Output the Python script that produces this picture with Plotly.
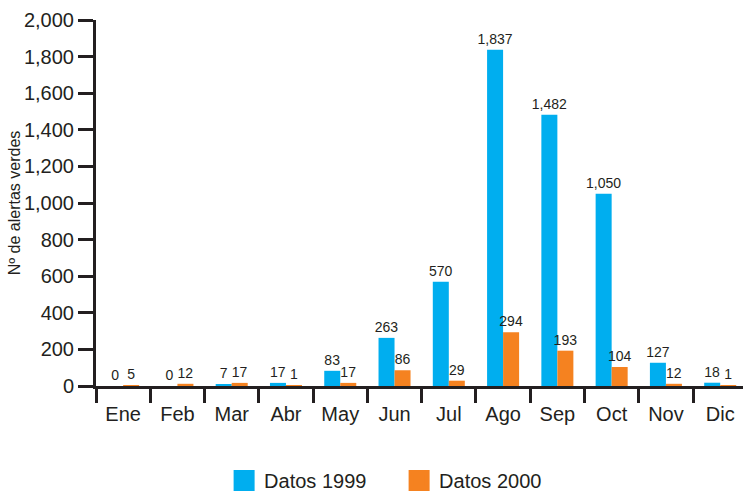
import plotly.graph_objects as go

months = ["Ene", "Feb", "Mar", "Abr", "May", "Jun", "Jul", "Ago", "Sep", "Oct", "Nov", "Dic"]
datos_1999 = [0, 0, 7, 17, 83, 263, 570, 1837, 1482, 1050, 127, 18]
datos_2000 = [5, 12, 17, 1, 17, 86, 29, 294, 193, 104, 12, 1]
y_ticks = [0, 200, 400, 600, 800, 1000, 1200, 1400, 1600, 1800, 2000]
series_names = ["Datos 1999", "Datos 2000"]
series_colors = ["#00AEEF", "#F58220"]

TXT = "#231F20"
FONT = "Liberation Sans, Arial, Helvetica, sans-serif"

fig = go.Figure()
for name, vals, col in zip(series_names, [datos_1999, datos_2000], series_colors):
    fig.add_trace(go.Bar(
        x=months, y=vals, name=name, legendgroup=name, showlegend=False,
        marker=dict(color=col, line=dict(width=0)),
        texttemplate="%{y:,}", textposition="outside", constraintext="none",
        textfont=dict(size=14, color=TXT, family=FONT),
        cliponaxis=False,
    ))
# legend entries (square swatches)
for name, col in zip(series_names, series_colors):
    fig.add_trace(go.Scatter(
        x=[None], y=[None], mode="markers", name=name, legendgroup=name,
        marker=dict(symbol="square", size=16, color=col, line=dict(width=5, color=col)),
        showlegend=True, hoverinfo="skip",
    ))

fig.update_layout(
    width=743, height=493,
    margin=dict(l=96, r=0, t=20, b=107, autoexpand=False),
    paper_bgcolor="white", plot_bgcolor="white",
    barmode="group", bargap=0.41, bargroupgap=0,
    font=dict(family=FONT, color=TXT),
    showlegend=True,
    legend=dict(
        orientation="h", x=0.198, xanchor="left", y=-0.205, yanchor="top",
        font=dict(size=20, color=TXT, family=FONT),
        itemsizing="trace", entrywidth=130, traceorder="normal",
        bgcolor="rgba(0,0,0,0)",
    ),
)

fig.update_xaxes(
    type="category", tickson="boundaries", range=[-0.5, 11.42],
    showline=True, linecolor=TXT, linewidth=3,
    ticks="outside", ticklen=14, tickwidth=3, tickcolor=TXT,
    tickfont=dict(size=20, color=TXT, family=FONT), ticklabelstandoff=8,
    showgrid=False, zeroline=False,
)
fig.update_yaxes(
    range=[0, 2000], tickvals=y_ticks, tickformat=",",
    showline=True, linecolor=TXT, linewidth=3,
    ticks="outside", ticklen=15, tickwidth=3, tickcolor=TXT,
    tickfont=dict(size=20, color=TXT, family=FONT),
    showgrid=False, zeroline=False,
    title=dict(text="Nº de alertas verdes", font=dict(size=16, color=TXT, family=FONT), standoff=0),
)

fig.write_html(
    "out.html",
    config={"displayModeBar": False},
    post_script="document.body.style.margin='0';document.body.style.overflow='hidden';",
)
